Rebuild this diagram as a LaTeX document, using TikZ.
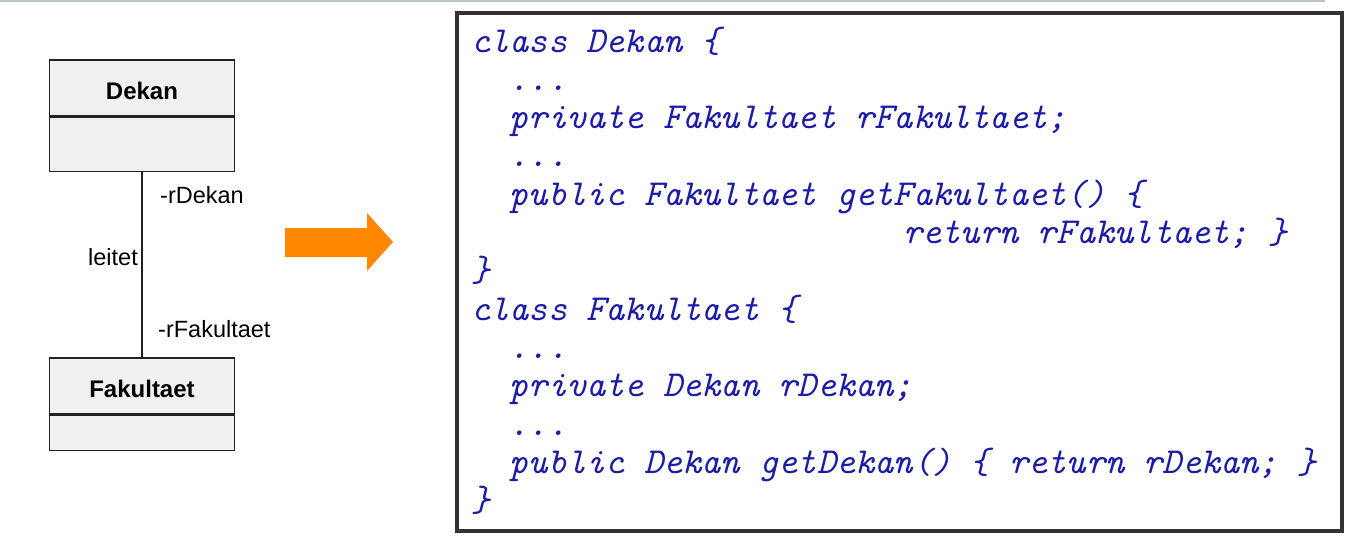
\documentclass[tikz,border=0pt]{standalone}
\usepackage{fontspec}
\newfontfamily\umlfont{Liberation Sans}
\definecolor{codeblue}{RGB}{28,28,165}
\definecolor{umlfill}{RGB}{240,240,240}
\definecolor{umlline}{RGB}{34,34,34}
\definecolor{boxline}{RGB}{50,50,50}
\definecolor{topline}{RGB}{184,196,208}
\definecolor{arroworange}{RGB}{255,136,0}
\tikzset{
  umltitle/.style={draw=umlline, fill=umlfill, line width=1.5pt, minimum width=185pt, inner sep=0pt, text height=22pt, text depth=0pt, font=\umlfont\bfseries\fontsize{24}{28}\selectfont},
  umlbody/.style={draw=umlline, fill=umlfill, line width=1.5pt, minimum width=185pt, inner sep=0pt, anchor=north},
  umllabel/.style={inner sep=0pt, font=\umlfont\fontsize{23.5}{28}\selectfont},
  codeline/.style={anchor=base west, inner sep=0pt, text=codeblue, font=\ttfamily\itshape\fontsize{36.6}{38.3}\selectfont},
}
\begin{document}
\begin{tikzpicture}[x=1pt,y=-1pt]
\useasboundingbox (0,0) rectangle (1361,544);
% top rule
\draw[topline, line width=2pt] (0,1) -- (1325,1);
% UML classes
\node[umltitle, minimum height=56pt] (dekan) at (142,88) {Dekan};
\node[umlbody, minimum height=54pt] (dekanb) at (dekan.south) {};
\node[umltitle, minimum height=56pt] (fak) at (142,386) {Fakultaet};
\node[umlbody, minimum height=35pt] (fakb) at (fak.south) {};
\draw[umlline, line width=1.5pt] (dekanb.south) -- (fak.north);
\node[umllabel, anchor=base west] (rdekan) at (160,203) {-rDekan};
\node[umllabel, anchor=base east] (leitet) at (138,265) {leitet};
\node[umllabel, anchor=base west] (rfak) at (158,337) {-rFakultaet};
% orange arrow
\fill[arroworange] (285,228) -- (367,228) -- (367,213) -- (393,242) -- (367,271) -- (367,257) -- (285,257) -- cycle;
% code box
\draw[boxline, line width=3.5pt] (457,13) rectangle (1342,531);
\def\cw{19.2}
\def\bl{38.3}
\def\cx{471}
\node[codeline] (l0) at (\cx,52) {class Dekan \{};
\node[codeline] (l1) at (\cx+2*\cw,52+1*\bl) {...};
\node[codeline] (l2) at (\cx+2*\cw,52+2*\bl) {private Fakultaet rFakultaet;};
\node[codeline] (l3) at (\cx+2*\cw,52+3*\bl) {...};
\node[codeline] (l4) at (\cx+2*\cw,52+4*\bl) {public Fakultaet getFakultaet() \{};
\node[codeline] (l5) at (\cx+22.5*\cw,52+5*\bl) {return rFakultaet; \}};
\node[codeline] (l6) at (\cx,52+6*\bl) {\}};
\node[codeline] (l7) at (\cx,52+7*\bl) {class Fakultaet \{};
\node[codeline] (l8) at (\cx+2*\cw,52+8*\bl) {...};
\node[codeline] (l9) at (\cx+2*\cw,52+9*\bl) {private Dekan rDekan;};
\node[codeline] (l10) at (\cx+2*\cw,52+10*\bl) {...};
\node[codeline] (l11) at (\cx+2*\cw,52+11*\bl) {public Dekan getDekan() \{ return rDekan; \}};
\node[codeline] (l12) at (\cx,52+12*\bl) {\}};
\end{tikzpicture}
\end{document}
